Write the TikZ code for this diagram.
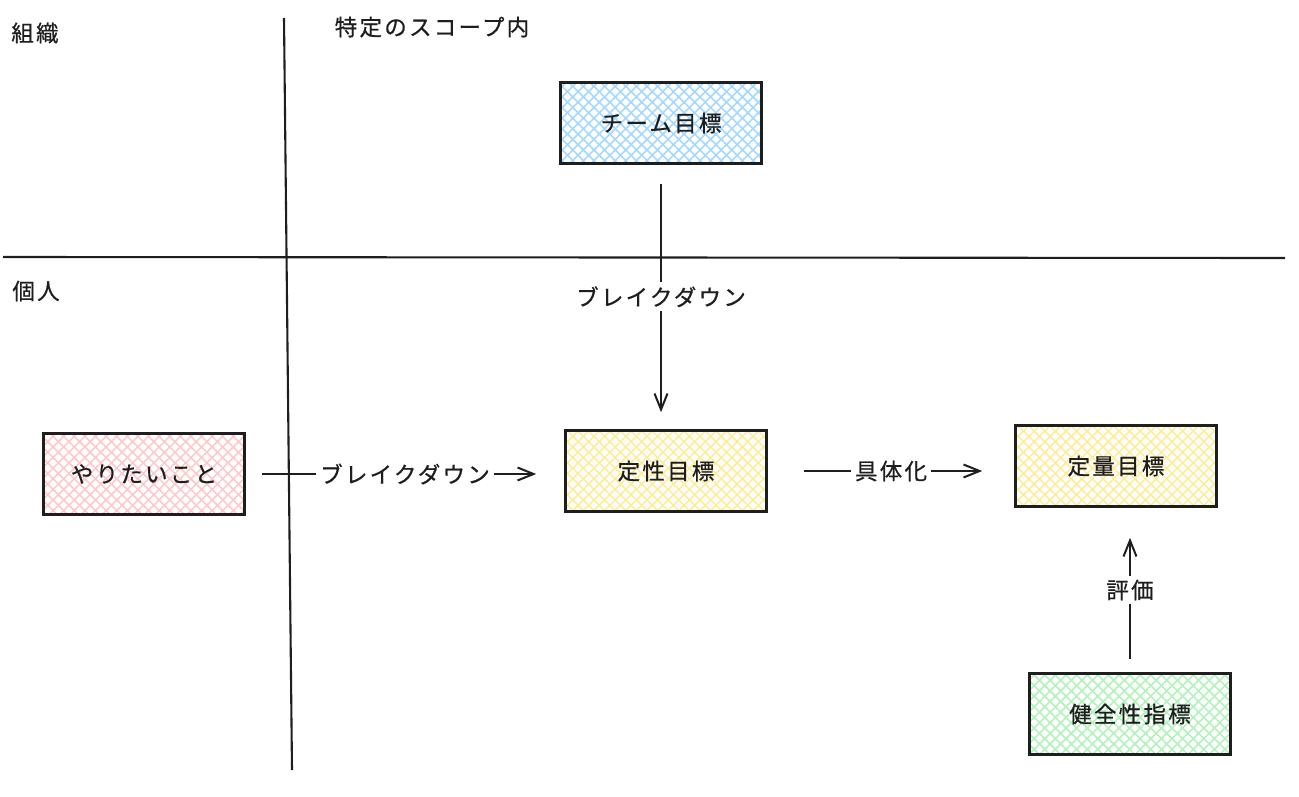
\documentclass[tikz,border=0pt]{standalone}
\usepackage{fontspec}
\newfontfamily\jp{Noto Sans CJK JP}[LetterSpace=10,FakeBold=0.6]
\usetikzlibrary{arrows.meta,patterns.meta}
\definecolor{hblue}{HTML}{A5D8FF}
\definecolor{hred}{HTML}{FFC9C9}
\definecolor{hyellow}{HTML}{FFEC99}
\definecolor{hgreen}{HTML}{B2F2BB}
\definecolor{ink}{HTML}{1E1E1E}
\tikzset{
  txt/.style={font=\jp\fontsize{22.5}{26}\selectfont, text=ink, inner sep=2pt},
  box/.style={txt, draw=ink, line width=2.6pt, minimum width=201pt, minimum height=81pt, inner sep=0pt},
  hatch/.style={preaction={pattern={Lines[angle=45,distance=7.5pt,line width=1.6pt]}, pattern color=#1},
                pattern={Lines[angle=-45,distance=7.5pt,line width=1.6pt]}, pattern color=#1},
  axis/.style={draw=ink, line width=2.1pt},
  conn/.style={draw=ink, line width=2pt, -{Straight Barb[length=16pt,width=13pt,line width=2pt]}},
  lbl/.style={txt, fill=white, inner sep=4pt},
}
\begin{document}
\begin{tikzpicture}[x=1pt,y=-1pt]
\useasboundingbox (0,0) rectangle (1299,797);
% axes
\coordinate (vtop) at (284,18);
\coordinate (vbot) at (292,770);
\coordinate (hleft) at (3,257);
\coordinate (hright) at (1285,258);
\draw[axis] (vtop) -- (vbot);
\draw[axis] (hleft) -- (hright);
% quadrant labels
\node[txt] (org) at (35,33) {組織};
\node[txt] (ind) at (36,291) {個人};
\node[txt] (scope) at (432,27) {特定のスコープ内};
% boxes
\node[box, hatch=hblue] (team) at (661,123) {チーム目標};
\node[box, hatch=hred] (want) at (144,474) {やりたいこと};
\node[box, hatch=hyellow] (qual) at (666,471) {定性目標};
\node[box, hatch=hyellow] (quan) at (1116,466) {定量目標};
\node[box, hatch=hgreen] (health) at (1130,714) {健全性指標};
% connectors
\draw[conn, shorten <=20pt, shorten >=17pt] (team.south) -- (team.south |- qual.north)
  node[lbl, midway] (bd1) {ブレイクダウン};
\draw[conn, shorten <=16pt, shorten >=28pt] (want.east) -- (want.east -| qual.west)
  node[lbl, midway] (bd2) {ブレイクダウン};
\draw[conn, shorten <=36pt, shorten >=32pt] (qual.east) -- (qual.east -| quan.west)
  node[lbl, midway] (conc) {具体化};
\draw[conn, shorten <=13pt, shorten >=30pt] (health.north) -- (health.north |- quan.south)
  node[lbl, midway] (eval) {評価};
\end{tikzpicture}
\end{document}
